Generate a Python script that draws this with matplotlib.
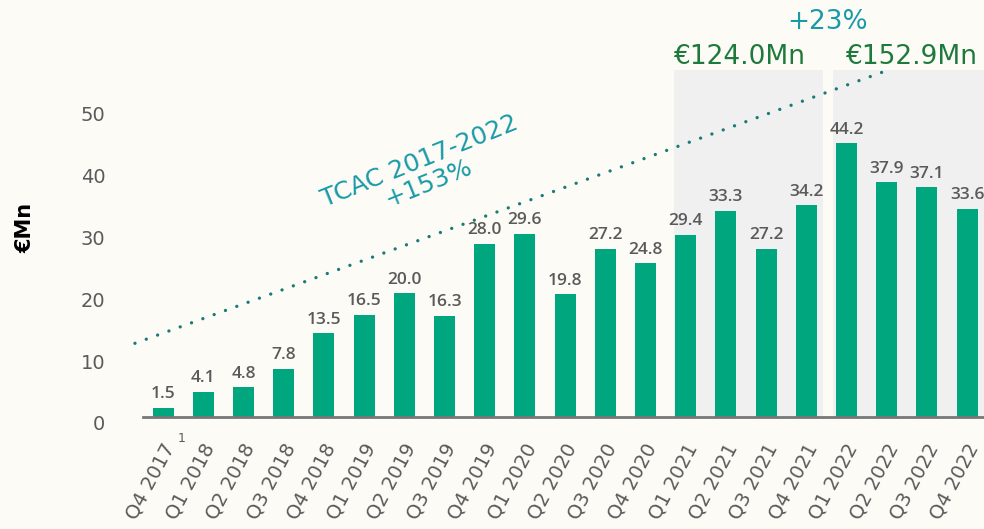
import matplotlib.pyplot as plt
import matplotlib.transforms as mtrans
import numpy as np

quarters = ['Q4 2017', 'Q1 2018', 'Q2 2018', 'Q3 2018', 'Q4 2018', 'Q1 2019', 'Q2 2019',
            'Q3 2019', 'Q4 2019', 'Q1 2020', 'Q2 2020', 'Q3 2020', 'Q4 2020', 'Q1 2021',
            'Q2 2021', 'Q3 2021', 'Q4 2021', 'Q1 2022', 'Q2 2022', 'Q3 2022', 'Q4 2022']
ventas = [1.5, 4.1, 4.8, 7.8, 13.5, 16.5, 20.0, 16.3, 28.0, 29.6, 19.8, 27.2, 24.8,
          29.4, 33.3, 27.2, 34.2, 44.2, 37.9, 37.1, 33.6]
yticks = [0, 10, 20, 30, 40, 50]
total_2021 = '€124.0Mn'
total_2022 = '€152.9Mn'
crecimiento = '+23%'
tcac = 'TCAC 2017-2022\n+153%'

fondo = '#fdfbf6'
verde = '#00a67e'
gris = '#5a5a5a'
teal = '#1a9aa8'
verde_osc = '#1e7a3c'

plt.rcParams['font.family'] = ['DejaVu Sans']

fig = plt.figure(figsize=(9.84, 5.29), dpi=100, facecolor=fondo)
ax = fig.add_axes([143 / 984, 112 / 529, 841 / 984, 384 / 529])
ax.set_facecolor(fondo)

x = np.arange(len(quarters))

# sombreado 2021 y 2022
ax.axvspan(12.71, 16.42, ymax=56 / 62, color='#f0f0f0', zorder=0, lw=0)
ax.axvspan(16.67, 20.6, ymax=56 / 62, color='#f0f0f0', zorder=0, lw=0)

ax.bar(x, ventas, width=0.52, color=verde, zorder=2)
for xi, v in zip(x, ventas):
    ax.text(xi, v + 0.9, f'{v:.1f}', ha='center', va='bottom', fontsize=12.5,
            color=gris, fontweight='semibold', family=['Open Sans', 'DejaVu Sans'],
            zorder=3)

ax.set_xlim(-0.5, 20.42)
ax.set_ylim(0, 62)
ax.set_yticks(yticks)
ax.set_yticklabels([str(t) for t in yticks], fontsize=14, color=gris)
ax.tick_params(axis='y', length=0, pad=27)
desplaza_y = mtrans.ScaledTranslation(0, -0.06, fig.dpi_scale_trans)
for lab in ax.get_yticklabels():
    lab.set_transform(lab.get_transform() + desplaza_y)

ax.set_xticks(x)
ax.set_xticklabels(quarters, rotation=62, ha='right', va='center',
                   rotation_mode='anchor', fontsize=14, color=gris)
ax.tick_params(axis='x', length=0, pad=20)
desplaza_x = mtrans.ScaledTranslation(0.07, 0, fig.dpi_scale_trans)
for lab in ax.get_xticklabels():
    lab.set_transform(lab.get_transform() + desplaza_x)

for s in ['top', 'right', 'left']:
    ax.spines[s].set_visible(False)
ax.spines['bottom'].set_color('#777777')
ax.spines['bottom'].set_linewidth(2)

ax.text(0.37, -4.6, '1', fontsize=9, color=gris, va='bottom', ha='left', clip_on=False)

# linea de tendencia punteada
ax.plot([-0.7, 18.03], [11.9, 56], color='#1a7a78', lw=2.4,
        linestyle=(0, (0.01, 3.6)), dash_capstyle='round', clip_on=False, zorder=4)

ax.text(6.5, 39.5, tcac, rotation=22, ha='center', va='center', fontsize=18,
        color=teal, linespacing=1.0, rotation_mode='anchor')

fig.text(25 / 984, 1 - 228 / 529, '€Mn', rotation=90, fontsize=15, fontweight='bold',
         color='black', ha='center', va='center')
fig.text(740 / 984, 1 - 57 / 529, total_2021, fontsize=19, color=verde_osc,
         ha='center', va='center')
fig.text(912 / 984, 1 - 57 / 529, total_2022, fontsize=19, color=verde_osc,
         ha='center', va='center')
fig.text(828 / 984, 1 - 22 / 529, crecimiento, fontsize=19, color=teal,
         ha='center', va='center')

fig.savefig('out.png', dpi=100, facecolor=fondo)
